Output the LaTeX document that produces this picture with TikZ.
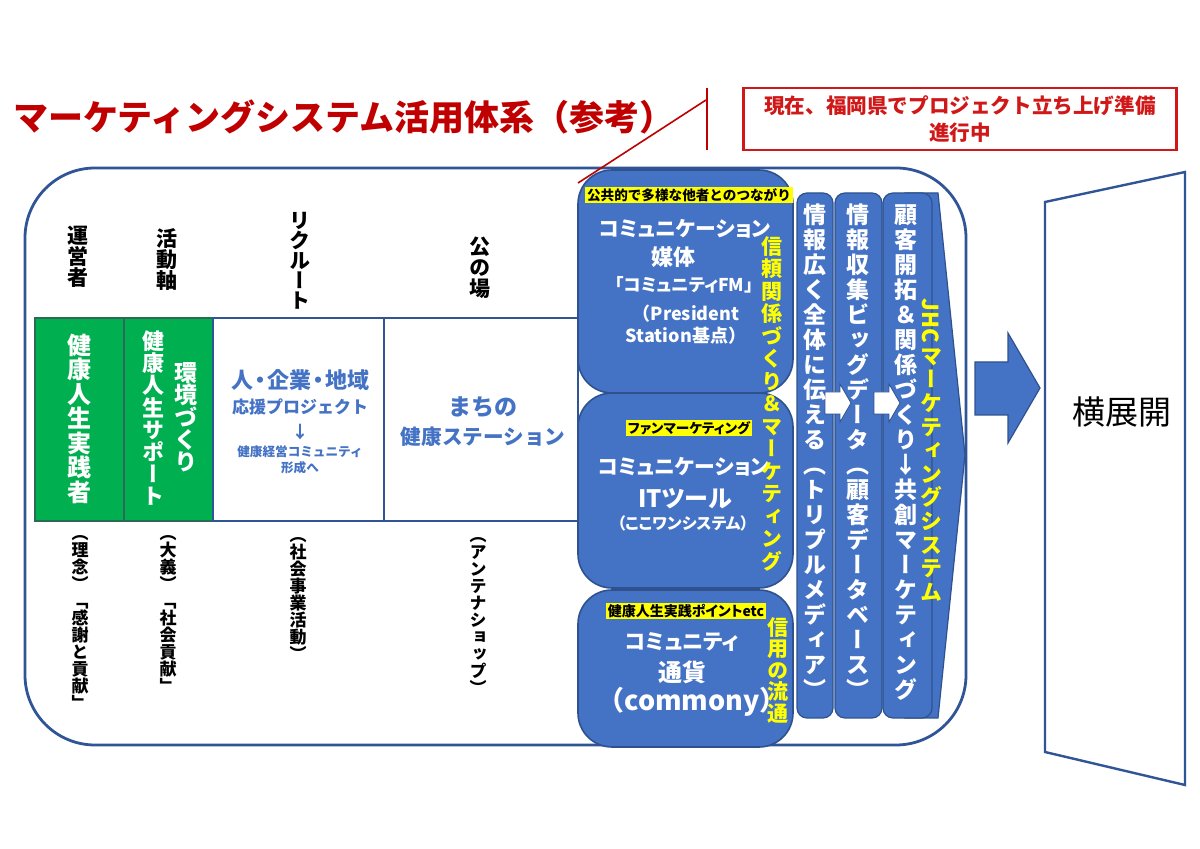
\documentclass[tikz,border=0pt]{standalone}
\usepackage{fontspec}
\usepackage{graphicx}
\setmainfont{Noto Sans CJK JP}
\newfontfamily\vjp{Noto Sans CJK JP}[RawFeature=+vert]
\newfontfamily\pjp{Noto Sans CJK JP}[RawFeature=+palt]
\newlength\vtgap
\def\vtend{\vtend}
\def\vtchar#1{\hbox to 1em{\hss\vrule height .88em depth .12em width 0pt\relax#1\hss}\kern\vtgap}
\def\vtloop#1{\ifx\vtend#1\else\vtchar{#1}\expandafter\vtloop\fi}
\newcommand\vt[2][0pt]{\vbox{\offinterlineskip\setlength\vtgap{#1}\vjp\vtloop#2\vtend}}
\newcommand\fsz[1]{\fontsize{#1}{#1}\selectfont}
\definecolor{tred}{HTML}{C00000}
\definecolor{bred}{HTML}{D01818}
\definecolor{frame}{HTML}{2F5597}
\definecolor{bfill}{HTML}{4472C4}
\definecolor{bline}{HTML}{2F528F}
\definecolor{gfill}{HTML}{00B050}
\definecolor{gline}{HTML}{2B6B55}
\definecolor{mblue}{HTML}{4472C4}
\definecolor{yel}{HTML}{FFFF00}
\tikzset{
  every node/.style={inner sep=0pt,outer sep=0pt},
  gbox/.style={draw=gline,line width=0.6pt,fill=gfill,minimum width=44.5pt,minimum height=101.5pt},
  wbox/.style={draw=frame,line width=1.2pt,fill=white,minimum height=101.5pt},
  blk/.style={draw=bline,line width=0.8pt,fill=bfill,rounded corners=17pt,minimum width=107.5pt},
  col/.style={draw=bline,line width=0.6pt,fill=bfill,rounded corners=5pt,minimum height=262.5pt},
  hl/.style={fill=yel,inner sep=0.8pt,text=black,font=\bfseries\fsz{6.8}},
  lbl/.style={text=black,font=\bfseries\fsz{10.5}},
  sub/.style={text=black,font=\bfseries\fsz{8.5},anchor=north},
  wt/.style={text=white,font=\bfseries\fsz{#1}},
  pwt/.style={text=white,font=\pjp\bfseries\fsz{#1}},
  bt/.style={text=mblue,font=\bfseries\fsz{#1}},
  yt/.style={text=yel,font=\bfseries\fsz{#1}},
  warr/.style={fill=white,draw=bline,line width=0.4pt}
}
\begin{document}
\begin{tikzpicture}[x=0.5pt,y=-0.5pt]
\useasboundingbox (0,0) rectangle (1200,849);
\fill[white] (0,0) rectangle (1200,849);

% title
\node[anchor=west,text=tred,font=\bfseries\fsz{17.5}] (title) at (13,117) {マーケティングシステム活用体系（参考）};
\coordinate (vtop) at (707,88);
\coordinate (vbot) at (707,150);
\coordinate (dtop) at (706,100);
\coordinate (dbot) at (578,183);

% red box
\node[draw=bred,line width=1.2pt,minimum width=216.5pt,minimum height=31pt] (redbox) at (960,119) {};
\node[text=bred,font=\bfseries\fsz{10.3},align=center] (redtext) at (960,119) {現在、福岡県でプロジェクト立ち上げ準備\\[3.5pt]進行中};

% big frame
\draw[frame,line width=1.4pt,rounded corners=35pt] (25,168) rectangle (966,745);

% left boxes
\node[gbox] (g1) at (79.5,419.5) {};
\node[gbox] (g2) at (168.5,419.5) {};
\node[wbox,minimum width=85.5pt] (w1) at (298.5,419.5) {};
\node[wbox,minimum width=97pt] (w2) at (481,419.5) {};

% heading labels
\node[lbl] (l1) at (78,257) {\vt{運営者}};
\node[lbl] (l2) at (167,260) {\vt{活動軸}};
\node[lbl] (l3) at (300,260) {\vt[-0.5pt]{リクルート}};
\node[lbl] (l4) at (480,268) {\vt{公の場}};

% sub labels
\node[sub] (s1) at (80,525) {\vt{（理念）「感謝と貢献」}};
\node[sub] (s2) at (168,525) {\vt{（大義）「社会貢献」}};
\node[sub] (s3) at (298,527) {\vt{（社会事業活動）}};
\node[sub] (s4) at (478,527) {\vt{（アンテナショップ）}};

% green texts
\node[wt=12] (gt1) at (80,419) {\vt[0.25pt]{健康人生実践者}};
\node[wt=11] (gt2) at (153,419) {\vt[0.1pt]{健康人生サポート}};
\node[wt=11.5] (gt3) at (186,417) {\vt[-0.3pt]{環境づくり}};

% white box texts
\node[bt=11] (wt1) at (300,380) {人\hspace{-2pt}・\hspace{-2pt}企業\hspace{-2pt}・\hspace{-2pt}地域};
\node[bt=8.5] (wt2) at (300,407) {応援プロジェクト};
\node[bt=8.5] (wt3) at (300,432) {↓};
\node[bt=6.3] (wt4) at (300,452) {健康経営コミュニティ};
\node[bt=6.3] (wt5) at (300,468) {形成へ};
\node[bt=11.5] (wt6) at (483,407) {まちの};
\node[bt=10.3] (wt7) at (483,437) {健康ステーション};

% blue blocks
\node[blk,minimum height=111.5pt] (bA) at (685.5,281.5) {};
\node[blk,minimum height=97.5pt] (bB) at (685.5,490.5) {};
\node[blk,minimum height=78.5pt] (bC) at (685.5,668.5) {};

% columns
\fill[bfill,draw=bline,line width=0.6pt] (905,193) -- (938,193) -- (965,455) -- (938,718) -- (905,718) -- cycle;
\node[col,minimum width=18pt] (c1) at (815,455.5) {};
\node[col,minimum width=23.5pt] (c2) at (858.5,455.5) {};
\node[col,minimum width=24.5pt] (c3) at (907.5,455.5) {};

% small white arrows
\fill[warr] (825,392) -- (840,392) -- (840,384) -- (851,403) -- (840,422) -- (840,414) -- (825,414) -- cycle;
\fill[warr] (874,392) -- (889,392) -- (889,384) -- (900,403) -- (889,422) -- (889,414) -- (874,414) -- cycle;

% block A texts
\node[hl] (hA) at (689,195) {公共的で多様な他者とのつながり};
\node[pwt=10.4] (a1) at (685,229) {コミュニケーション};
\node[wt=11] (a2) at (673,257) {媒体};
\node[pwt=8.8] (a3) at (684,285) {「コミュニティFM」};
\node[wt=9,align=center] (a4) at (686,325) {（President\\[2pt]Station基点）};

% block B texts
\node[hl,font=\pjp\bfseries\fsz{6.8}] (hB) at (689,428) {ファンマーケティング};
\node[pwt=10.4] (b1) at (684,467) {コミュニケーション};
\node[pwt=12] (b2) at (685,499) {ITツール};
\node[pwt=8] (b3) at (683,523) {（ここワンシステム）};

% block C texts
\node[hl,font=\pjp\bfseries\fsz{7}] (hC) at (686,611) {健康人生実践ポイントetc};
\node[pwt=10.6] (k1) at (682,642) {コミュニティ};
\node[wt=12] (k2) at (682,672) {通貨};
\node[wt=13.5] (k3) at (692,702) {（commony）};

% yellow vertical texts
\node[yt=10.5,anchor=north] (y1) at (772,236) {\vt[0.75pt]{信頼関係づくり＆マーケティング}};
\node[yt=10.5,anchor=north] (y2) at (778,617) {\vt[0.25pt]{信用の流通}};

% column texts
\node[wt=11.5,anchor=north] (ct1) at (815,203) {\vt[1pt]{情報広く全体に伝える（トリプルメディア）}};
\node[wt=11.5,anchor=north] (ct2) at (858,203) {\vt[1pt]{情報収集ビッグデータ（顧客データベース）}};
\node[wt=11.5,anchor=north] (ct3) at (906,203) {\vt[1pt]{顧客開拓＆関係づくり↓共創マーケティング}};
\node[yt=11,anchor=north] (ct4) at (931,298) {\vt[0.8pt]{{\raisebox{.85em}{\rotatebox{-90}{JHC}}}マーケティングシステム}};

% big arrow
\fill[bfill,draw=bline,line width=0.6pt] (975,362) -- (1008,362) -- (1008,333) -- (1040,388) -- (1008,443) -- (1008,415) -- (975,415) -- cycle;

% trapezoid
\draw[frame,line width=1.2pt] (1045,202) -- (1185,172) -- (1185,785) -- (1045,752) -- cycle;
\node[text=black,font=\fsz{16.5}] (yoko) at (1122,412) {横展開};

% red lines
\draw[tred,line width=1pt] (vtop) -- (vbot);
\draw[tred,line width=0.8pt] (dtop) -- (dbot);
\end{tikzpicture}
\end{document}
